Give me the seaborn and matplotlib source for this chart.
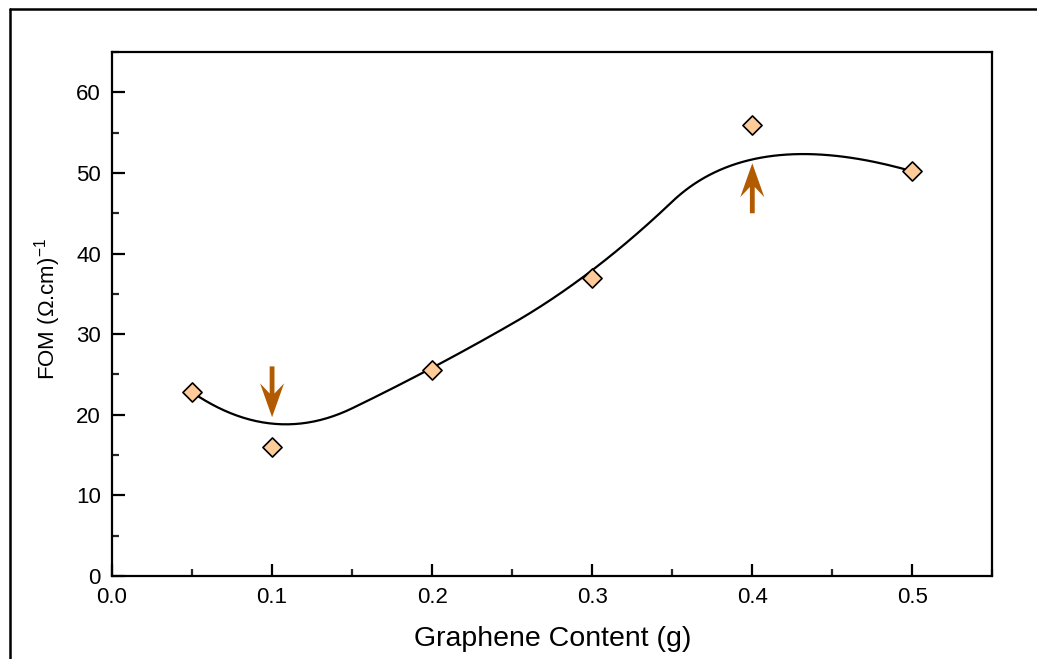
import numpy as np
import pandas as pd
import seaborn as sns
import matplotlib
matplotlib.use('Agg')
import matplotlib.pyplot as plt
from matplotlib.lines import Line2D
from matplotlib.patches import FancyArrow
from matplotlib.ticker import MultipleLocator

# data
graphene = [0.05, 0.1, 0.2, 0.3, 0.4, 0.5]
fom = [22.8, 16.0, 25.6, 37.0, 55.9, 50.2]

sns.set_style('ticks')
plt.rcParams['font.family'] = ['Liberation Sans', 'DejaVu Sans']
plt.rcParams['mathtext.fontset'] = 'custom'
plt.rcParams['mathtext.rm'] = 'Liberation Sans'
plt.rcParams['mathtext.it'] = 'Liberation Sans'
plt.rcParams['axes.linewidth'] = 1.6
plt.rcParams['axes.labelcolor'] = 'black'


# Origin-style B-spline connection (data points used as control points)
def bspline(xs, ys, k=2, n=300):
    pts = np.column_stack([xs, ys])
    m = len(pts)
    inner = np.linspace(0, 1, m - k + 1)
    knots = np.concatenate([[0] * k, inner, [1] * k])
    u = np.linspace(0, 1, n)
    u[-1] = 1 - 1e-10

    def basis(i, p, t):
        if p == 0:
            return ((knots[i] <= t) & (t < knots[i + 1])).astype(float)
        left = 0.0
        right = 0.0
        if knots[i + p] != knots[i]:
            left = (t - knots[i]) / (knots[i + p] - knots[i]) * basis(i, p - 1, t)
        if knots[i + p + 1] != knots[i + 1]:
            right = (knots[i + p + 1] - t) / (knots[i + p + 1] - knots[i + 1]) * basis(i + 1, p - 1, t)
        return left + right

    curve = sum(basis(i, k, u)[:, None] * pts[i] for i in range(m))
    return curve[:, 0], curve[:, 1]


cx, cy = bspline(graphene, fom)
df = pd.DataFrame({'Graphene Content (g)': graphene, 'FOM': fom})
fit = pd.DataFrame({'x': cx, 'y': cy})

fig = plt.figure(figsize=(10.37, 6.59), dpi=100)
ax = fig.add_axes([0.108, 0.126, 0.849, 0.795])

sns.lineplot(data=fit, x='x', y='y', ax=ax, color='black', lw=1.6, sort=False, zorder=2)
sns.scatterplot(data=df, x='Graphene Content (g)', y='FOM', ax=ax, marker='D', s=95,
                color='#FFCC99', edgecolor='black', linewidth=1.2, zorder=3)

# arrows marking min and max (notched heads)
arrow_col = '#B25A00'
for x0, y0, dy in [(0.1, 26.0, -6.3), (0.4, 45.0, 6.2)]:
    ax.add_patch(FancyArrow(x0, y0, 0, dy, width=0.0030, head_width=0.0150, head_length=4.2,
                            overhang=0.3, length_includes_head=True, color=arrow_col, lw=0, zorder=4))

ax.set_xlim(0, 0.55)
ax.set_ylim(0, 65)
ax.xaxis.set_minor_locator(MultipleLocator(0.05))
ax.yaxis.set_minor_locator(MultipleLocator(5))
ax.set_xticks(np.arange(0, 0.51, 0.1))
ax.set_xticklabels(['0.0', '0.1', '0.2', '0.3', '0.4', '0.5'])
ax.set_yticks(np.arange(0, 61, 10))
ax.tick_params(which='major', direction='in', length=9, width=1.6, labelsize=16, colors='black')
ax.tick_params(axis='x', which='major', pad=8)
ax.tick_params(axis='y', which='major', pad=8)
ax.tick_params(which='minor', direction='in', length=5, width=1.6)
ax.tick_params(top=False, right=False, which='both')
for sp in ax.spines.values():
    sp.set_visible(True)
    sp.set_color('black')

ax.set_xlabel('Graphene Content (g)', fontsize=20.5)
ax.set_ylabel(r'FOM (Ω.cm)$^{-1}$', fontsize=16)
ax.xaxis.set_label_coords(0.5, -0.096)
ax.yaxis.set_label_coords(-0.056, 0.51)

# outer frame (clipped by the image edges on right/bottom)
fig.add_artist(Line2D([10 / 1037, 10 / 1037], [0, 1 - 9 / 659], color='black', lw=1.8))
fig.add_artist(Line2D([10 / 1037, 1], [1 - 9 / 659, 1 - 9 / 659], color='black', lw=1.8))

fig.savefig('out.png', dpi=100)
